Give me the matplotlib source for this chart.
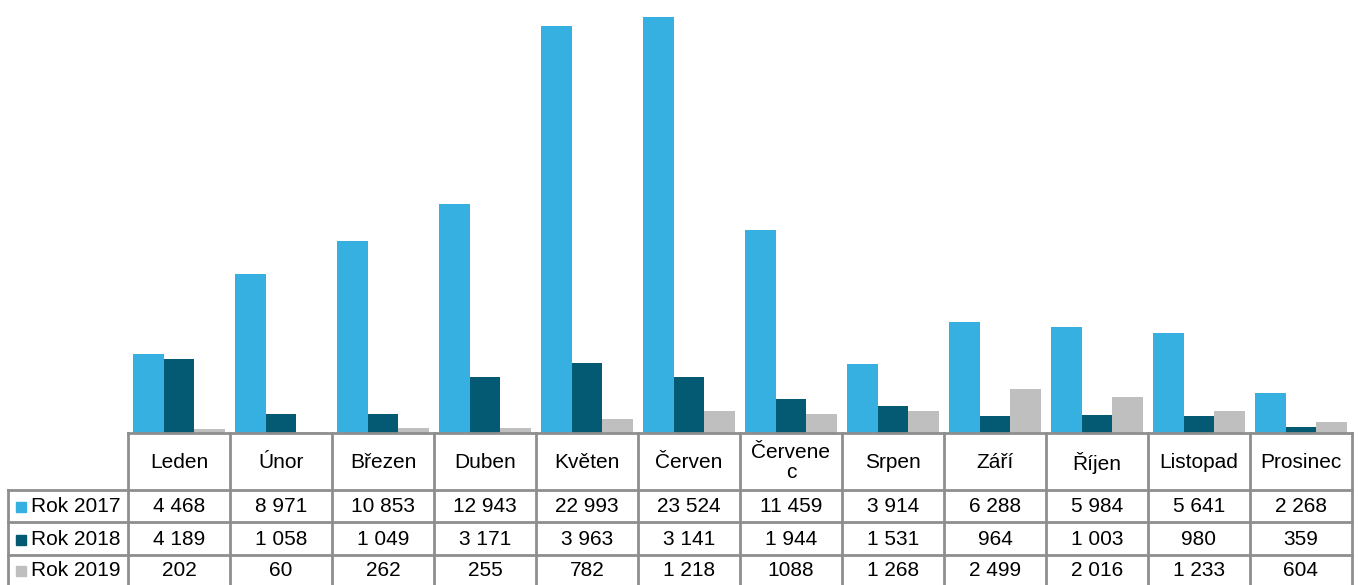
import matplotlib.pyplot as plt
import numpy as np

months = ['Leden', 'Únor', 'Březen', 'Duben', 'Květen', 'Červen',
          'Červene\nc', 'Srpen', 'Září', 'Říjen', 'Listopad', 'Prosinec']
series_names = ['Rok 2017', 'Rok 2018', 'Rok 2019']
rok_2017 = [4468, 8971, 10853, 12943, 22993, 23524, 11459, 3914, 6288, 5984, 5641, 2268]
rok_2018 = [4189, 1058, 1049, 3171, 3963, 3141, 1944, 1531, 964, 1003, 980, 359]
rok_2019 = [202, 60, 262, 255, 782, 1218, 1088, 1268, 2499, 2016, 1233, 604]
colors = ['#35B0E0', '#045A73', '#BFBFBF']


def fmt(v, i, name):
    # the source table writes Červenec 2019 without a thousands space
    if name == 'Rok 2019' and i == 6:
        return str(v)
    return '{:,}'.format(v).replace(',', ' ')


plt.rcParams['font.family'] = ['Liberation Sans', 'DejaVu Sans']

W, H = 1358, 585
fig = plt.figure(figsize=(W / 100, H / 100), dpi=100)

# bar area sits directly above the table columns
left_px, right_px, base_px = 128, 1352, 433
ax = fig.add_axes([left_px / W, (H - base_px) / H, (right_px - left_px) / W, base_px / H])
x = np.arange(len(months))
bw = 0.3
for k, (vals, c) in enumerate(zip([rok_2017, rok_2018, rok_2019], colors)):
    ax.bar(x + (k - 1) * bw, vals, width=bw, color=c, linewidth=0)
ax.set_xlim(-0.5, len(months) - 0.5)
ax.set_ylim(0, 24480)
ax.axis('off')

# table drawn in pixel coordinates over the whole figure
tab = fig.add_axes([0, 0, 1, 1], zorder=3)
tab.set_xlim(0, W)
tab.set_ylim(H, 0)
tab.axis('off')
tab.patch.set_alpha(0)

grid = '#8E8E8E'
lw = 2
colw = (right_px - left_px) / len(months)
rows_y = [433, 490, 522, 555, 585]
label_left = 8

tab.plot([left_px, right_px], [rows_y[0], rows_y[0]], color=grid, lw=lw)
for y in rows_y[1:4]:
    tab.plot([label_left, right_px], [y, y], color=grid, lw=lw)
for j in range(len(months) + 1):
    xx = left_px + j * colw
    tab.plot([xx, xx], [rows_y[0], H], color=grid, lw=lw)
tab.plot([label_left, label_left], [rows_y[1], H], color=grid, lw=lw)

fs = 15
for j, m in enumerate(months):
    cx = left_px + (j + 0.5) * colw
    tab.text(cx, (rows_y[0] + rows_y[1]) / 2 + 1, m, ha='center', va='center',
             fontsize=fs, linespacing=1.0)

data = [rok_2017, rok_2018, rok_2019]
for r, (name, vals, c) in enumerate(zip(series_names, data, colors)):
    cy = (rows_y[r + 1] + rows_y[r + 2]) / 2 + 1
    tab.plot([20.5], [cy], marker='s', ms=7, color=c, mec=c)
    tab.text(31, cy, name, ha='left', va='center', fontsize=fs)
    for j, v in enumerate(vals):
        cx = left_px + (j + 0.5) * colw
        tab.text(cx, cy, fmt(v, j, name), ha='center', va='center', fontsize=fs)

fig.savefig('out.png', dpi=100)
